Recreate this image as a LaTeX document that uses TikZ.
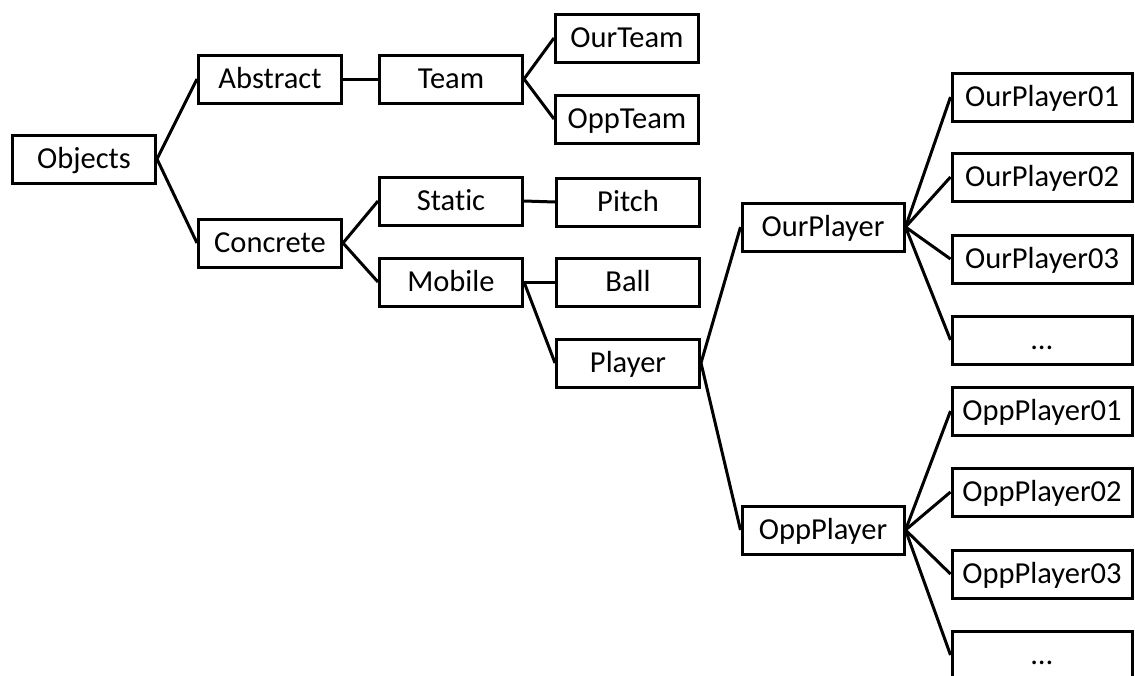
\documentclass[tikz,border=0pt]{standalone}
\usepackage{fontspec}
\setmainfont[Ligatures=CommonOff]{Carlito}
\begin{document}
\begin{tikzpicture}[x=1pt, y=-1pt,
    cls/.style={draw, line width=3pt, minimum width=143pt, minimum height=48pt,
      inner sep=0pt, text height=19.5pt, text depth=0pt, font=\fontsize{30.5}{33}\selectfont},
    wide/.style={cls, minimum width=162pt},
    leaf/.style={cls, minimum width=180pt},
    link/.style={line width=3pt}]
    \useasboundingbox (0,0) rectangle (1135,675);
    % class tree
    \node[cls] (objects) at (84,159) {Objects};
    \node[cls] (abstract) at (270,79) {Abstract};
    \node[cls] (concrete) at (270,243) {Concrete};
    \node[cls] (team) at (451,79) {Team};
    \node[cls] (ourteam) at (627,38) {OurTeam};
    \node[cls] (oppteam) at (627,119) {OppTeam};
    \node[cls] (static) at (451,201) {Static};
    \node[cls] (pitch) at (628,202) {Pitch};
    \node[cls] (mobile) at (451,282) {Mobile};
    \node[cls] (ball) at (628,282) {Ball};
    \node[cls] (player) at (628,363) {Player};
    \node[wide] (ourplayer) at (823,227) {OurPlayer};
    \node[wide] (oppplayer) at (823,530) {OppPlayer};
    % player instances
    \foreach \i/\y in {1/97,2/177,3/259}
      \node[leaf] (our\i) at (1042,\y) {OurPlayer0\i};
    \node[leaf] (our4) at (1042,340) {…};
    \foreach \i/\y in {1/411,2/492,3/574}
      \node[leaf] (opp\i) at (1042,\y) {OppPlayer0\i};
    \node[leaf] (opp4) at (1042,655) {…};
    % links
    \foreach \a/\b in {objects/abstract, objects/concrete, abstract/team,
      team/ourteam, team/oppteam, concrete/static, concrete/mobile,
      static/pitch, mobile/ball, mobile/player, player/ourplayer, player/oppplayer}
      \path[draw, link] (\a.east) -- (\b.west);
    \foreach \i in {1,2,3,4} {
      \path[draw, link] (ourplayer.east) -- (our\i.west);
      \path[draw, link] (oppplayer.east) -- (opp\i.west);
    }
\end{tikzpicture}
\end{document}
